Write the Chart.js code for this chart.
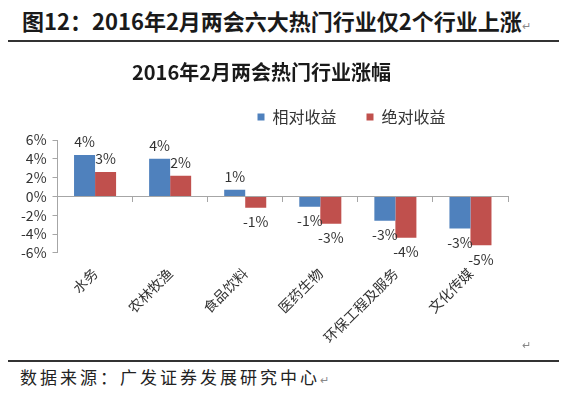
<!DOCTYPE html>
<html>
<head>
<meta charset="utf-8">
<script src="https://cdn.jsdelivr.net/npm/chart.js@4.4.1/dist/chart.umd.min.js"></script>
<style>
  body { margin: 0; width: 564px; height: 397px; background: #fff; position: relative; overflow: hidden;
         font-family: 'Noto Sans CJK SC', sans-serif; color: #1a1a1a; }
  .page-title { position: absolute; left: 22px; top: 4px; font-size: 22px; font-weight: bold; white-space: nowrap; }
  .rule { position: absolute; left: 8px; width: 551px; height: 2px; background: #333; }
  .source { position: absolute; left: 20px; top: 364px; font-size: 17px; letter-spacing: 3px; white-space: nowrap; color: #222; }
  .mark { font-size: 11px; color: #888; font-weight: normal; letter-spacing: 0; }
  #wrap { position: absolute; left: 0; top: 0; width: 564px; height: 350px; }
</style>
</head>
<body>
<div class="page-title">图12：2016年2月两会六大热门行业仅2个行业上涨<span class="mark">↵</span></div>
<div class="rule" style="top:40px"></div>
<div id="wrap"><canvas id="chart"></canvas></div>
<div class="mark" style="position:absolute;left:522px;top:336px">↵</div>
<div class="rule" style="top:360px"></div>
<div class="source">数据来源：广发证券发展研究中心<span class="mark">↵</span></div>

<script>
// 行业
const categories = ['水务', '农林牧渔', '食品饮料', '医药生物', '环保工程及服务', '文化传媒'];
// 相对收益 / 绝对收益 (%)
const relativeReturn = [4.4, 4.0, 0.7, -1.1, -2.6, -3.4];
const absoluteReturn = [2.6, 2.2, -1.2, -2.9, -4.4, -5.2];
const seriesNames = ['相对收益', '绝对收益'];
const yTicks = [-6, -4, -2, 0, 2, 4, 6];

const FONT = "'Noto Sans CJK SC', sans-serif";
const AXIS_GRAY = '#a6a6a6';

// value labels at the end of each bar
const barLabels = {
  id: 'barLabels',
  afterDatasetsDraw(chart) {
    const ctx = chart.ctx;
    ctx.save();
    ctx.font = '14px ' + FONT;
    ctx.fillStyle = '#333';
    ctx.textAlign = 'center';
    ctx.textBaseline = 'middle';
    chart.data.datasets.forEach((ds, i) => {
      chart.getDatasetMeta(i).data.forEach((bar, j) => {
        const v = ds.data[j];
        const y = v >= 0 ? bar.y - 13 : bar.y + 14;
        ctx.fillText(Math.round(v) + '%', bar.x, y);
      });
    });
    ctx.restore();
  }
};

// legend sits right of centre and a bit higher in the original
const legendShift = {
  id: 'legendShift',
  afterLayout(chart) {
    const lg = chart.legend;
    lg.left += 90;
    lg.right += 90;
    lg.top -= 5;
    lg.bottom -= 5;
  }
};

new Chart(document.getElementById('chart'), {
  type: 'bar',
  data: {
    labels: categories,
    datasets: [
      { label: seriesNames[0], data: relativeReturn, backgroundColor: '#4f81bd' },
      { label: seriesNames[1], data: absoluteReturn, backgroundColor: '#c0504d' }
    ]
  },
  options: {
    responsive: true,
    maintainAspectRatio: false,
    animation: false,
    categoryPercentage: 0.56,
    barPercentage: 1,
    layout: { padding: { top: 50, left: 15, right: 56, bottom: 0 } },
    plugins: {
      title: {
        display: true,
        text: '2016年2月两会热门行业涨幅',
        color: '#1a1a1a',
        font: { family: FONT, size: 20, weight: 'bold' },
        padding: { top: 10, bottom: 0 }
      },
      legend: {
        position: 'top',
        labels: {
          boxWidth: 7,
          boxHeight: 7,
          padding: 30,
          color: '#333',
          font: { family: FONT, size: 16 }
        }
      },
      tooltip: { enabled: false }
    },
    scales: {
      x: {
        offset: true,
        grid: { display: false },
        border: { display: false },
        ticks: {
          minRotation: 45,
          maxRotation: 45,
          padding: 4,
          color: '#333',
          font: { family: FONT, size: 14 }
        }
      },
      x0: {
        type: 'category',
        position: { y: 0 },
        offset: true,
        grid: { offset: true, drawOnChartArea: false, tickLength: 5, color: AXIS_GRAY },
        border: { color: AXIS_GRAY },
        ticks: { display: false }
      },
      y: {
        min: yTicks[0],
        max: yTicks[yTicks.length - 1],
        afterBuildTicks(scale) { scale.ticks = yTicks.map(v => ({ value: v })); },
        grid: { drawOnChartArea: false, tickLength: 5, color: AXIS_GRAY },
        border: { color: AXIS_GRAY },
        ticks: {
          autoSkip: false,
          padding: 6,
          color: '#333',
          font: { family: FONT, size: 14 },
          callback: v => v + '%'
        }
      }
    }
  },
  plugins: [barLabels, legendShift]
});
</script>
</body>
</html>
